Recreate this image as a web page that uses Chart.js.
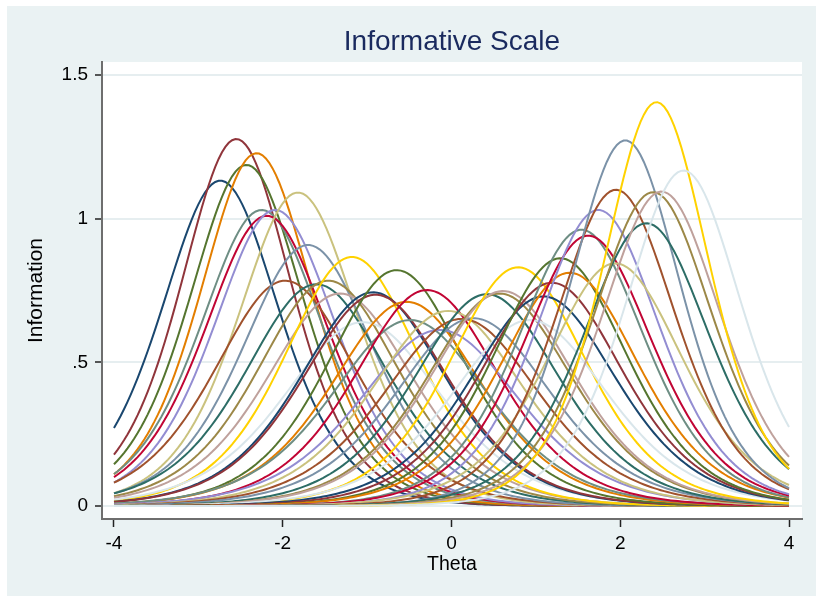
<!DOCTYPE html>
<html>
<head>
<meta charset="utf-8">
<script src="https://cdn.jsdelivr.net/npm/chart.js@4.4.1/dist/chart.umd.min.js"></script>
<style>
  html, body { margin: 0; padding: 0; background: #ffffff; }
  #wrap { width: 816px; height: 596px; }
</style>
</head>
<body>
<div id="wrap"><canvas id="chart" width="816" height="596"></canvas></div>
<script>
// 2PL item parameters for the 45 items, ordered by location
const itemDifficulty = [
  -2.74, -2.55, -2.43, -2.31, -2.25, -2.19, -2.09, -1.82, -1.97, -1.70,
  -1.60, -1.46, -1.32, -1.18, -1.05, -0.93, -0.90, -0.65, -0.53, -0.49,
  -0.29, -0.14, -0.04,  0.12,  0.26,  0.42,  0.57,  0.61,  0.79,  0.93,
   1.09,  1.19,  1.29,  1.40,  1.54,  1.62,  1.74,  1.94,  1.95,  2.06,
   2.31,  2.39,  2.49,  2.43,  2.75
];
const itemDiscrimination = [
  2.128, 2.260, 2.179, 2.216, 2.030, 2.010, 2.030, 2.089, 1.771, 1.906,
  1.757, 1.771, 1.720, 1.862, 1.600, 1.725, 1.715, 1.812, 1.686, 1.609,
  1.734, 1.566, 1.648, 1.614, 1.617, 1.717, 1.720, 1.730, 1.823, 1.609,
  1.708, 1.763, 1.857, 1.802, 1.961, 1.940, 2.030, 1.838, 2.098, 2.256,
  1.984, 2.090, 2.092, 2.371, 2.161
];
const thetaTicks = [-4, -2, 0, 2, 4];
const infoTicks = [0, 0.5, 1, 1.5];
const infoTickLabels = ['0', '.5', '1', '1.5'];

// s2color line palette
const palette = [
  '#1a476f', '#90353b', '#55752f', '#e37e00', '#6e8e84',
  '#c10534', '#938dd2', '#cac27e', '#a0522d', '#7b92a8',
  '#2d6d66', '#9c8847', '#bfa19c', '#ffd200', '#d9e6eb'
];

// theta grid on which each information function is evaluated
const thetaGrid = [];
for (let k = 0; k <= 200; k++) thetaGrid.push(-4 + k * 0.04);

function itemInformation(a, b, t) {
  const p = 1 / (1 + Math.exp(-a * (t - b)));
  return a * a * p * (1 - p);
}

const datasets = itemDifficulty.map((b, i) => {
  const a = itemDiscrimination[i];
  return {
    label: 'Item ' + (i + 1),
    data: thetaGrid.map(t => ({ x: t, y: itemInformation(a, b, t) })),
    borderColor: palette[i % palette.length],
    borderWidth: 2,
    pointRadius: 0,
    tension: 0,
    fill: false,
    order: itemDifficulty.length - i
  };
});

const backdrop = {
  id: 'backdrop',
  beforeDraw(chart) {
    const { ctx, chartArea } = chart;
    ctx.save();
    ctx.fillStyle = '#ffffff';
    ctx.fillRect(0, 0, chart.width, chart.height);
    ctx.fillStyle = '#eaf2f3';
    ctx.fillRect(7, 6, chart.width - 7, chart.height - 6);
    ctx.fillStyle = '#ffffff';
    ctx.fillRect(chartArea.left, chartArea.top, chartArea.right - chartArea.left, chartArea.bottom - chartArea.top);
    ctx.restore();
  },
  afterDraw(chart) {
    const { ctx, chartArea } = chart;
    ctx.save();
    ctx.fillStyle = '#1a2a5e';
    ctx.font = '28px "Liberation Sans", Arial, sans-serif';
    ctx.textAlign = 'center';
    ctx.textBaseline = 'middle';
    ctx.fillText('Informative Scale', (chartArea.left + chartArea.right) / 2, 42);
    ctx.restore();
  }
};

new Chart(document.getElementById('chart'), {
  type: 'line',
  data: { datasets },
  plugins: [backdrop],
  options: {
    responsive: false,
    animation: false,
    devicePixelRatio: 1,
    layout: { padding: { top: 62, right: 14, left: 0, bottom: 0 } },
    plugins: {
      legend: { display: false },
      title: { display: false },
      tooltip: { enabled: false }
    },
    scales: {
      x: {
        type: 'linear',
        min: -4.142,
        max: 4.154,
        afterBuildTicks(scale) { scale.ticks = thetaTicks.map(v => ({ value: v })); },
        afterFit(scale) { scale.height = 77; },
        ticks: {
          color: '#000000',
          font: { family: '"Liberation Sans", Arial, sans-serif', size: 19 },
          padding: 5,
          maxRotation: 0,
          autoSkip: false,
          callback: v => String(v)
        },
        grid: {
          drawOnChartArea: false,
          drawTicks: true,
          tickLength: 8,
          tickColor: '#222222',
          tickWidth: 1.5
        },
        border: { display: true, color: '#6e6e6e', width: 2 },
        title: {
          display: true,
          text: 'Theta',
          color: '#000000',
          font: { family: '"Liberation Sans", Arial, sans-serif', size: 19.5 },
          padding: { top: 0, bottom: 20 }
        }
      },
      y: {
        type: 'linear',
        min: -0.045,
        max: 1.545,
        afterBuildTicks(scale) { scale.ticks = infoTicks.map(v => ({ value: v })); },
        afterFit(scale) { scale.width = 102; },
        ticks: {
          color: '#000000',
          font: { family: '"Liberation Sans", Arial, sans-serif', size: 19 },
          padding: 7,
          autoSkip: false,
          callback: v => infoTickLabels[infoTicks.indexOf(v)]
        },
        grid: {
          drawOnChartArea: true,
          color: '#e6eef0',
          lineWidth: 2,
          drawTicks: true,
          tickLength: 7,
          tickColor: '#222222',
          tickWidth: 1.5
        },
        border: { display: true, color: '#6e6e6e', width: 2 },
        title: {
          display: true,
          text: 'Information',
          color: '#000000',
          font: { family: '"Liberation Sans", Arial, sans-serif', size: 21 },
          padding: { top: 24, bottom: 0 }
        }
      }
    }
  }
});
</script>
</body>
</html>
